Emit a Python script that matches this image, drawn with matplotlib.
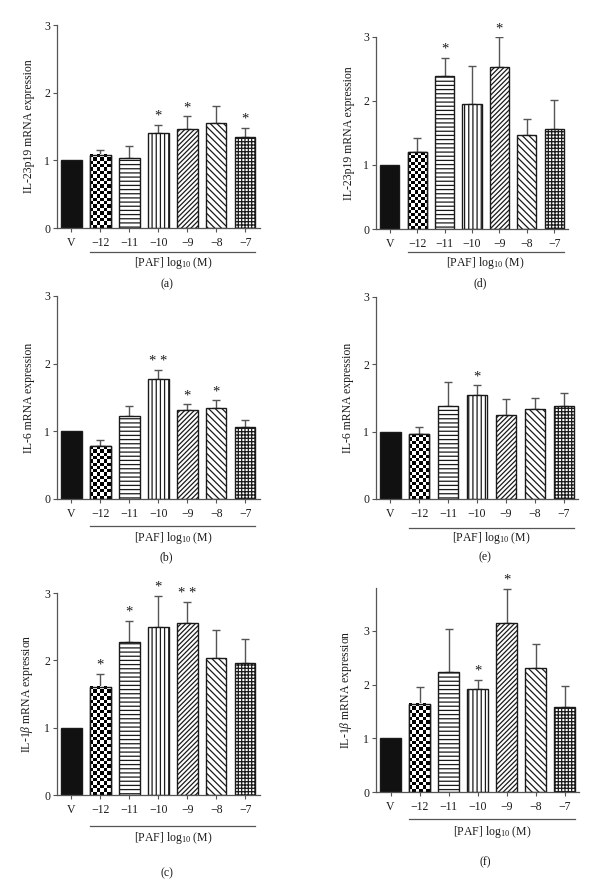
import numpy as np
import matplotlib
matplotlib.use('Agg')
import matplotlib.pyplot as plt
from matplotlib.transforms import blended_transform_factory

plt.rcParams['font.family'] = ['Liberation Serif', 'DejaVu Serif']
plt.rcParams['mathtext.fontset'] = 'custom'
plt.rcParams['mathtext.rm'] = 'Liberation Serif'
plt.rcParams['mathtext.it'] = 'Liberation Serif:italic'
plt.rcParams['hatch.linewidth'] = 0.9

# ---------------- data ----------------
categories = ['V', '\u221212', '\u221211', '\u221210', '\u22129', '\u22128', '\u22127']
yticks = [0, 1, 2, 3]

a_vals = [1.0, 1.08, 1.03, 1.41, 1.47, 1.55, 1.34]
a_err = [0, 0.08, 0.18, 0.12, 0.18, 0.25, 0.14]
a_stars = ['', '', '', '*', '*', '', '*']

b_vals = [1.0, 0.78, 1.23, 1.77, 1.32, 1.34, 1.07]
b_err = [0, 0.09, 0.15, 0.13, 0.08, 0.12, 0.10]
b_stars = ['', '', '', '**', '*', '*', '']

c_vals = [1.0, 1.61, 2.27, 2.50, 2.56, 2.04, 1.96]
c_err = [0, 0.19, 0.32, 0.46, 0.30, 0.41, 0.36]
c_stars = ['', '*', '*', '*', '**', '', '']

d_vals = [1.0, 1.20, 2.39, 1.95, 2.53, 1.46, 1.56]
d_err = [0, 0.22, 0.28, 0.60, 0.46, 0.26, 0.45]
d_stars = ['', '', '*', '', '*', '', '']

e_vals = [1.0, 0.96, 1.38, 1.54, 1.24, 1.33, 1.38]
e_err = [0, 0.11, 0.36, 0.15, 0.25, 0.17, 0.20]
e_stars = ['', '', '', '*', '', '', '']

f_vals = [1.0, 1.64, 2.24, 1.91, 3.15, 2.31, 1.59]
f_err = [0, 0.32, 0.80, 0.18, 0.63, 0.44, 0.38]
f_stars = ['', '', '', '*', '*', '', '']

ylab_23 = 'IL-23p19 mRNA expression'
ylab_6 = 'IL-6 mRNA expression'
ylab_1b = r'IL-1$\it{\beta}$ mRNA expression'
xlab = r'[PAF] log$_{\mathregular{10}}$ (M)'

# ---------------- style ----------------
SPINE = '#555555'
EDGE = '#1a1a1a'
TXT = '#1a1a1a'
HATCHES = [None, None, '----', '||||', '///////', '\\\\\\\\\\', '+++++']
W = 0.7

fig = plt.figure(figsize=(6.0, 8.88), dpi=100)

panels = [
    (a_vals, a_err, a_stars, ylab_23, '(a)', [0.095, 0.7432, 0.338, 0.2286], 3.0, (-0.118, -0.172, -0.276)),
    (b_vals, b_err, b_stars, ylab_6, '(b)', [0.095, 0.4381, 0.338, 0.2286], 3.0, (-0.133, -0.192, -0.286)),
    (c_vals, c_err, c_stars, ylab_1b, '(c)', [0.095, 0.1047, 0.338, 0.2275], 3.0, (-0.153, -0.213, -0.386)),
    (d_vals, d_err, d_stars, ylab_23, '(d)', [0.6267, 0.7421, 0.320, 0.2166], 3.0, (-0.120, -0.177, -0.280)),
    (e_vals, e_err, e_stars, ylab_6, '(e)', [0.6267, 0.4381, 0.3367, 0.2275], 3.0, (-0.144, -0.193, -0.287)),
    (f_vals, f_err, f_stars, ylab_1b, '(f)', [0.6267, 0.1081, 0.3383, 0.2297], 3.8, (-0.132, -0.196, -0.343)),
]

for vals, errs, stars, ylabel, letter, rect, ymax, (y_ul, y_paf, y_let) in panels:
    ax = fig.add_axes(rect)
    x = np.arange(len(categories))
    vals = np.asarray(vals)
    errs = np.asarray(errs)

    ax.errorbar(x[1:], vals[1:], yerr=[np.zeros(len(vals) - 1), errs[1:]], fmt='none',
                ecolor=SPINE, elinewidth=1.0, capsize=3, capthick=1.0, zorder=1)
    bars = ax.bar(x, vals, W, color='white', edgecolor=EDGE, linewidth=1.0, zorder=2)
    bars[0].set_facecolor('#111111')
    for b, h in zip(bars, HATCHES):
        if h:
            b.set_hatch(h)

    ax.set_xlim(-0.5, len(categories) - 0.5)
    ax.set_ylim(0, ymax)

    # checkerboard bar
    b = bars[1]
    p0 = ax.transData.transform((b.get_x(), 0))
    p1 = ax.transData.transform((b.get_x() + b.get_width(), b.get_height()))
    wpx, hpx = p1 - p0
    nx = 6
    ny = max(1, int(round(hpx / (wpx / nx))))
    grid = np.add.outer(np.arange(ny), np.arange(nx)) % 2
    ax.imshow(grid[::-1], cmap='Greys', vmin=0, vmax=1, interpolation='nearest',
              extent=(b.get_x(), b.get_x() + b.get_width(), 0, b.get_height()),
              aspect='auto', zorder=2.5)
    ax.bar([x[1]], [vals[1]], W, fill=False, edgecolor=EDGE, linewidth=1.0, zorder=3)
    ax.set_xlim(-0.5, len(categories) - 0.5)
    ax.set_ylim(0, ymax)

    # stars
    for xi, v, e, s in zip(x, vals, errs, stars):
        if s:
            ax.annotate(' '.join(s), (xi, v + e), xytext=(0, 1.5), textcoords='offset points',
                        ha='center', va='bottom', fontsize=10.5, color=TXT)

    ax.set_xticks(x)
    ax.set_xticklabels(categories)
    ax.set_yticks(yticks)
    ax.tick_params(direction='out', length=3, width=0.8, color=SPINE, labelcolor=TXT,
                   labelsize=8.5)
    ax.tick_params(axis='x', pad=3.5)
    ax.tick_params(axis='y', pad=2)
    for sp in ['top', 'right']:
        ax.spines[sp].set_visible(False)
    for sp in ['left', 'bottom']:
        ax.spines[sp].set_color(SPINE)
        ax.spines[sp].set_linewidth(0.9)
    ax.spines['left'].set_bounds(0, ymax)

    ax.set_ylabel(ylabel, fontsize=8.5, color=TXT)
    ax.yaxis.set_label_coords(-0.11, 0.5)

    tr = blended_transform_factory(ax.transData, ax.transAxes)
    ax.plot([1 - W / 2, 6 + W / 2], [y_ul, y_ul], transform=tr, clip_on=False,
            color=SPINE, lw=0.9)
    ax.text(3.5, y_paf, xlab, transform=tr, ha='center', va='center', fontsize=8.5, color=TXT)
    ax.text(0.54, y_let, letter, transform=ax.transAxes, ha='center', va='center',
            fontsize=8.5, color=TXT)

fig.savefig('out.png', dpi=100)
